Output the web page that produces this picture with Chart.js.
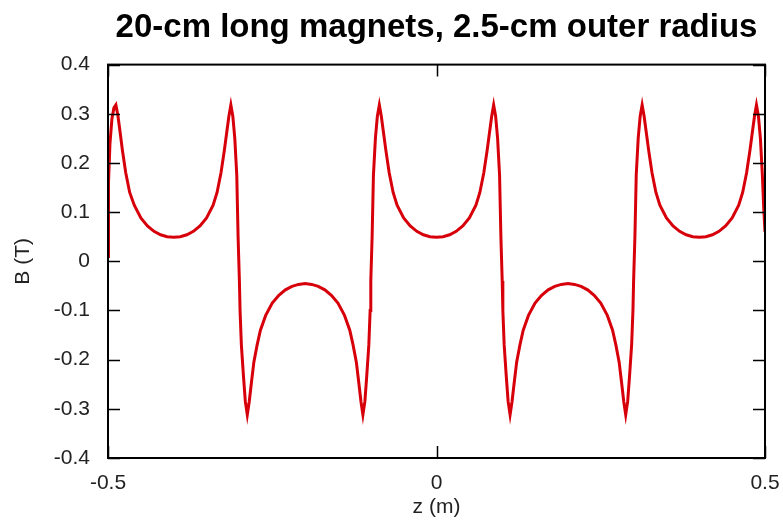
<!DOCTYPE html>
<html>
<head>
<meta charset="utf-8">
<title>20-cm long magnets</title>
<script src="https://cdn.jsdelivr.net/npm/chart.js@4.4.0/dist/chart.umd.min.js"></script>
<style>
  html, body { margin: 0; padding: 0; background: #fff; }
  #wrap { width: 783px; height: 527px; }
</style>
</head>
<body>
<div id="wrap"><canvas id="fieldChart" width="783" height="527"></canvas></div>
<script>
// Field along the axis of the magnet stack
const zValues = [
  -0.500, -0.4995, -0.499, -0.497, -0.494, -0.491, -0.488, -0.485, -0.482, -0.478,
  -0.473, -0.467, -0.460, -0.450, -0.440, -0.430, -0.420, -0.410, -0.400, -0.390,
  -0.380, -0.370, -0.360, -0.350, -0.340, -0.334, -0.328, -0.323, -0.319, -0.316,
  -0.313, -0.310, -0.307, -0.304, -0.302, -0.300, -0.299, -0.297, -0.294, -0.291,
  -0.288, -0.285, -0.282, -0.278, -0.273, -0.268, -0.260, -0.250, -0.240, -0.230,
  -0.220, -0.210, -0.200, -0.190, -0.180, -0.170, -0.160, -0.150, -0.140, -0.132,
  -0.127, -0.122, -0.118, -0.115, -0.112, -0.109, -0.106, -0.103, -0.101, -0.100,
  -0.098, -0.096, -0.093, -0.090, -0.087, -0.084, -0.081, -0.077, -0.072, -0.066,
  -0.060, -0.050, -0.040, -0.030, -0.020, -0.010, 0.000, 0.010, 0.020, 0.030,
  0.040, 0.050, 0.060, 0.066, 0.072, 0.077, 0.081, 0.084, 0.087, 0.090,
  0.093, 0.096, 0.098, 0.100, 0.101, 0.103, 0.106, 0.109, 0.112, 0.115,
  0.118, 0.122, 0.127, 0.132, 0.140, 0.150, 0.160, 0.170, 0.180, 0.190,
  0.200, 0.210, 0.220, 0.230, 0.240, 0.250, 0.260, 0.268, 0.273, 0.278,
  0.282, 0.285, 0.288, 0.291, 0.294, 0.297, 0.299, 0.300, 0.302, 0.304,
  0.307, 0.310, 0.313, 0.316, 0.319, 0.323, 0.328, 0.334, 0.340, 0.350,
  0.360, 0.370, 0.380, 0.390, 0.400, 0.410, 0.420, 0.430, 0.440, 0.450,
  0.460, 0.466, 0.472, 0.477, 0.481, 0.484, 0.487, 0.490, 0.493, 0.496,
  0.498, 0.500
];

const bValues = [
  0.010, 0.100, 0.160, 0.240, 0.290, 0.312, 0.318, 0.297, 0.267, 0.225,
  0.180, 0.140, 0.114, 0.088, 0.072, 0.061, 0.054, 0.050, 0.049, 0.050,
  0.054, 0.061, 0.072, 0.088, 0.114, 0.140, 0.180, 0.225, 0.265, 0.295,
  0.318, 0.295, 0.250, 0.175, 0.050, -0.040, -0.100, -0.170, -0.230, -0.285,
  -0.312, -0.285, -0.250, -0.205, -0.170, -0.140, -0.110, -0.085, -0.069, -0.058,
  -0.051, -0.047, -0.045, -0.047, -0.051, -0.058, -0.069, -0.085, -0.110, -0.140,
  -0.170, -0.205, -0.250, -0.285, -0.312, -0.285, -0.230, -0.170, -0.100, -0.040,
  0.050, 0.175, 0.250, 0.295, 0.318, 0.295, 0.265, 0.225, 0.180, 0.140,
  0.114, 0.088, 0.072, 0.061, 0.054, 0.050, 0.049, 0.050, 0.054, 0.061,
  0.072, 0.088, 0.114, 0.140, 0.180, 0.225, 0.265, 0.295, 0.318, 0.295,
  0.250, 0.175, 0.050, -0.040, -0.100, -0.170, -0.230, -0.285, -0.312, -0.285,
  -0.250, -0.205, -0.170, -0.140, -0.110, -0.085, -0.069, -0.058, -0.051, -0.047,
  -0.045, -0.047, -0.051, -0.058, -0.069, -0.085, -0.110, -0.140, -0.170, -0.205,
  -0.250, -0.285, -0.312, -0.285, -0.230, -0.170, -0.100, -0.040, 0.050, 0.175,
  0.250, 0.295, 0.318, 0.295, 0.265, 0.225, 0.180, 0.140, 0.114, 0.088,
  0.072, 0.061, 0.054, 0.050, 0.049, 0.050, 0.054, 0.061, 0.072, 0.088,
  0.114, 0.140, 0.180, 0.225, 0.265, 0.295, 0.318, 0.295, 0.250, 0.175,
  0.110, 0.060
];

const xTicks = [-0.5, 0, 0.5];
const yTicks = [-0.4, -0.3, -0.2, -0.1, 0, 0.1, 0.2, 0.3, 0.4];

const FONT = '"Liberation Sans", Arial, Helvetica, sans-serif';
const TICK_LEN = 12;

// Frame round the plot and short inward tick marks on all four sides
const frameTicks = {
  id: 'frameTicks',
  afterDraw(chart) {
    const { ctx, chartArea: a, scales } = chart;
    ctx.save();
    ctx.strokeStyle = '#000';
    ctx.lineWidth = 1.5;
    ctx.beginPath();
    yTicks.forEach(v => {
      const py = Math.round(scales.y.getPixelForValue(v)) + 0.5;
      ctx.moveTo(a.left, py); ctx.lineTo(a.left + TICK_LEN, py);
      ctx.moveTo(a.right, py); ctx.lineTo(a.right - TICK_LEN, py);
    });
    xTicks.forEach(v => {
      const px = Math.round(scales.x.getPixelForValue(v)) + 0.5;
      ctx.moveTo(px, a.bottom); ctx.lineTo(px, a.bottom - TICK_LEN);
      ctx.moveTo(px, a.top); ctx.lineTo(px, a.top + TICK_LEN);
    });
    ctx.stroke();
    ctx.lineWidth = 2;
    ctx.strokeRect(a.left, a.top, a.right - a.left, a.bottom - a.top);
    ctx.restore();
  }
};

const ctx = document.getElementById('fieldChart').getContext('2d');

new Chart(ctx, {
  type: 'line',
  data: {
    datasets: [{
      label: 'B',
      data: zValues.map((z, i) => ({ x: z, y: bValues[i] })),
      borderColor: 'rgb(215, 0, 10)',
      borderWidth: 3,
      pointRadius: 0,
      tension: 0,
      fill: false
    }]
  },
  options: {
    responsive: false,
    animation: false,
    layout: { padding: { left: 0, right: 18, top: 0, bottom: 0 } },
    plugins: {
      legend: { display: false },
      tooltip: { enabled: false },
      title: {
        display: true,
        text: '20-cm long magnets, 2.5-cm outer radius',
        fullSize: false,
        color: '#000',
        font: { family: FONT, size: 33, weight: 'bold' },
        padding: { top: 8, bottom: 17 }
      }
    },
    scales: {
      x: {
        type: 'linear',
        min: -0.5,
        max: 0.5,
        afterBuildTicks: s => { s.ticks = xTicks.map(v => ({ value: v })); },
        afterFit: s => { s.height = 69; s.paddingLeft = 0; s.paddingRight = 0; },
        grid: { display: false, drawTicks: false },
        border: { display: false },
        ticks: {
          padding: 13,
          color: '#222',
          font: { family: FONT, size: 21 },
          maxRotation: 0,
          callback: v => String(v)
        },
        title: {
          display: true,
          text: 'z (m)',
          color: '#222',
          font: { family: FONT, size: 21 },
          padding: { top: 0, bottom: 7 }
        }
      },
      y: {
        min: -0.4,
        max: 0.4,
        afterBuildTicks: s => { s.ticks = yTicks.map(v => ({ value: v })); },
        afterFit: s => { s.width = 108; },
        grid: { display: false, drawTicks: false },
        border: { display: false },
        ticks: {
          padding: 18,
          color: '#222',
          font: { family: FONT, size: 21 },
          callback: v => String(v)
        },
        title: {
          display: true,
          text: 'B (T)',
          color: '#222',
          font: { family: FONT, size: 21 },
          padding: { top: 11, bottom: 0 }
        }
      }
    }
  },
  plugins: [frameTicks]
});
</script>
</body>
</html>
